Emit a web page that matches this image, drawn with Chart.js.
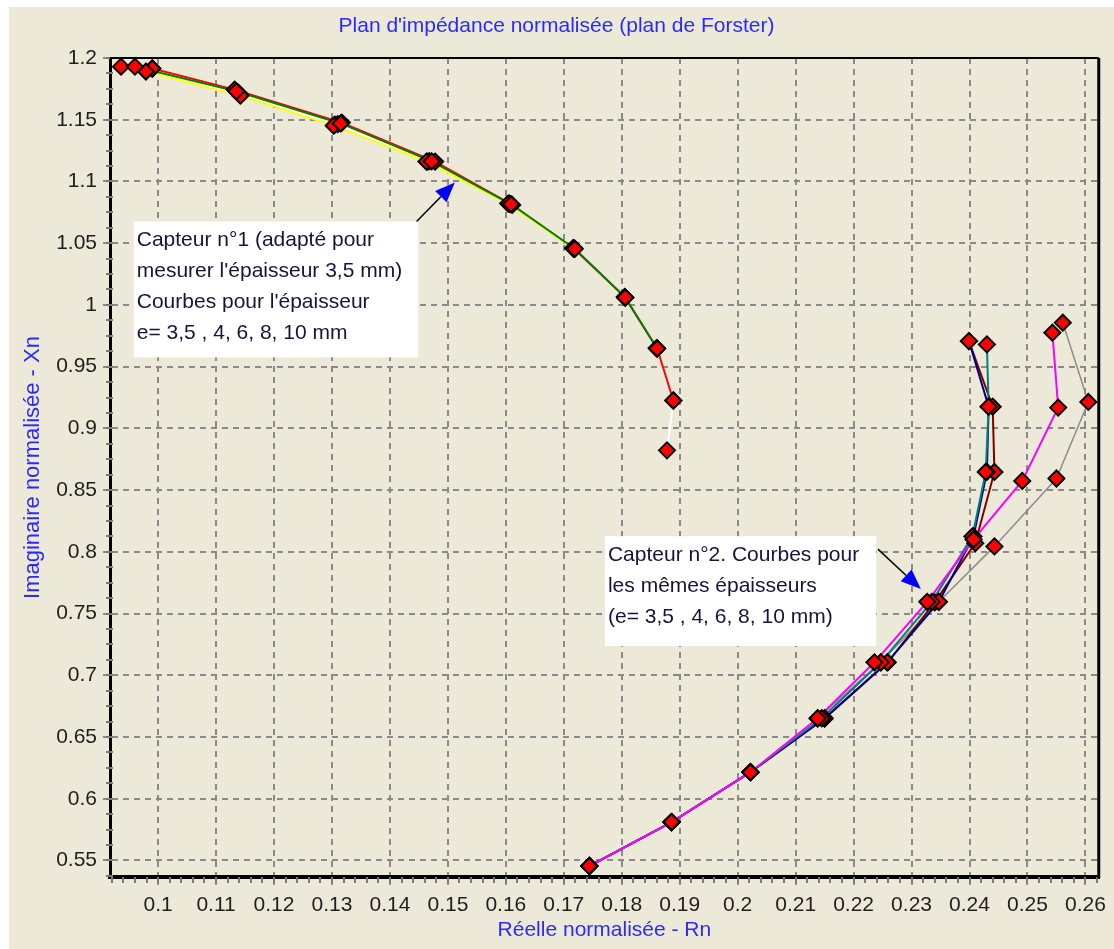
<!DOCTYPE html>
<html lang="fr">
<head>
<meta charset="utf-8">
<title>Plan d'impédance normalisée</title>
<script src="https://cdn.jsdelivr.net/npm/chart.js@4.4.1/dist/chart.umd.min.js"></script>
<style>
  html, body { margin: 0; background: #fff; }
  #cadre { position: absolute; left: 9px; top: 7px; width: 1105px; height: 942px; background: #ece9d8; }
</style>
</head>
<body>
<div id="cadre"><canvas id="graphe"></canvas></div>
<script>
// Capteur n°1 : points [Rn, Xn] pour chaque épaisseur
const c1_e35 = [[0.0979, 1.189], [0.1142, 1.1695], [0.1303, 1.1452], [0.1463, 1.1161], [0.1604, 1.0821], [0.1717, 1.0457]];
const c1_e4 = [[0.0990, 1.1915], [0.1138, 1.172], [0.1310, 1.1465], [0.1468, 1.1165], [0.1607, 1.0818], [0.1717, 1.0457], [0.1806, 1.006]];
const c1_e6 = [[0.0960, 1.193], [0.1135, 1.173], [0.1315, 1.147], [0.1472, 1.1163], [0.1609, 1.0815], [0.1719, 1.0455], [0.1806, 1.006], [0.1861, 0.9647]];
const c1_e8 = [[0.0990, 1.1915], [0.1132, 1.1744], [0.1317, 1.1477], [0.1478, 1.1161], [0.1611, 1.081], [0.1717, 1.0457], [0.1805, 1.0065], [0.1861, 0.9647], [0.1889, 0.9226]];
const c1_e10 = [[0.0936, 1.193], [0.1140, 1.171], [0.1305, 1.146], [0.1465, 1.116], [0.1606, 1.082], [0.1716, 1.046], [0.1806, 1.006], [0.1860, 0.965], [0.1889, 0.9226], [0.1878, 0.8822]];

// Capteur n°2
const c2_e35 = [[0.1744, 0.5455], [0.1886, 0.5811], [0.2022, 0.6215], [0.2150, 0.6652], [0.2258, 0.7105], [0.2347, 0.7595], [0.2407, 0.8125], [0.2430, 0.8647], [0.2433, 0.9176], [0.2399, 0.9707]];
const c2_e4 = [[0.1744, 0.5455], [0.1886, 0.5811], [0.2022, 0.6215], [0.2150, 0.665], [0.2259, 0.7105], [0.2340, 0.759], [0.2410, 0.807], [0.2443, 0.8647], [0.2440, 0.9176], [0.2399, 0.9707]];
const c2_e6 = [[0.1744, 0.5455], [0.1886, 0.5811], [0.2022, 0.6215], [0.2145, 0.6652], [0.2247, 0.7105], [0.2335, 0.7595], [0.2405, 0.8125], [0.2428, 0.8647], [0.2433, 0.9176], [0.2430, 0.968]];
const c2_e8 = [[0.1744, 0.5455], [0.1886, 0.5811], [0.2022, 0.6215], [0.2138, 0.6652], [0.2236, 0.7105], [0.2327, 0.7595], [0.2407, 0.81], [0.2491, 0.8574], [0.2553, 0.9168], [0.2543, 0.9775]];
const c2_e10 = [[0.1744, 0.5455], [0.1886, 0.5811], [0.2022, 0.6215], [0.2138, 0.665], [0.2247, 0.7105], [0.2347, 0.7595], [0.2443, 0.8044], [0.2550, 0.8594], [0.2605, 0.9214], [0.2561, 0.9856]];

const xTicks = [0.1, 0.11, 0.12, 0.13, 0.14, 0.15, 0.16, 0.17, 0.18, 0.19, 0.2, 0.21, 0.22, 0.23, 0.24, 0.25, 0.26];
const yTicks = [0.55, 0.6, 0.65, 0.7, 0.75, 0.8, 0.85, 0.9, 0.95, 1, 1.05, 1.1, 1.15, 1.2];
const xMin = 0.0917, xMax = 0.2623, yMin = 0.5366, yMax = 1.2;

// cadres de texte : [Rn gauche, Xn haut, Rn droite, Xn bas], flèche [départ Rn, Xn, pointe Rn, Xn]
const notes = [
  { box: [0.0958, 1.0676, 0.1449, 0.9575],
    lignes: ['Capteur n°1 (adapté pour', "mesurer l'épaisseur 3,5 mm)", "Courbes pour l'épaisseur", 'e= 3,5 , 4, 6, 8, 10 mm'],
    fleche: [0.1446, 1.0676, 0.1512, 1.0992] },
  { box: [0.1771, 0.8127, 0.2239, 0.7237],
    lignes: ['Capteur n°2. Courbes pour', 'les mêmes épaisseurs', '(e= 3,5 , 4, 6, 8, 10 mm)'],
    fleche: [0.2242, 0.8022, 0.2316, 0.7698] }
];

const police = 'Arial, "Liberation Sans", sans-serif';

// la première courbe de la liste est dessinée au-dessus des autres
const courbes = [
  { pts: c2_e8, couleur: '#ff00ff', ep: 2 },
  { pts: c2_e6, couleur: '#008080', ep: 2 },
  { pts: c2_e35, couleur: '#000080', ep: 2 },
  { pts: c2_e4, couleur: '#800000', ep: 2 },
  { pts: c2_e10, couleur: '#8c8c8c', ep: 1.5 },
  { pts: c1_e6, couleur: '#008000', ep: 2 },
  { pts: c1_e35, couleur: '#ffff00', ep: 2 },
  { pts: c1_e8, couleur: '#ff0000', ep: 2 },
  { pts: c1_e4, couleur: '#ffffff', ep: 2 },
  { pts: c1_e10, couleur: '#ffffff', ep: 2 }
];

const datasets = [];
courbes.forEach(c => {
  const data = c.pts.map(p => ({ x: p[0], y: p[1] }));
  datasets.push({ data, showLine: true, borderColor: c.couleur, borderWidth: c.ep, pointRadius: 0, order: 2 });
  datasets.push({ data, showLine: false, pointStyle: 'rectRot', pointRadius: 8,
    backgroundColor: '#ff0000', borderColor: '#000', pointBorderWidth: 2, order: 1 });
});

const decor = {
  id: 'decor',
  beforeDatasetsDraw(chart) {
    const { ctx, chartArea: a, scales: { x, y } } = chart;
    ctx.save();
    ctx.strokeStyle = '#7a7a7a';
    ctx.lineWidth = 2;
    ctx.beginPath();
    for (let v = 0.092; v < xMax; v += 0.002) {
      const px = Math.round(x.getPixelForValue(v));
      ctx.moveTo(px, a.bottom);
      ctx.lineTo(px, a.bottom + 6);
    }
    for (let v = 0.5375; v < yMax; v += 0.0125) {
      const py = Math.round(y.getPixelForValue(v));
      ctx.moveTo(a.left - 4, py);
      ctx.lineTo(a.left + 3, py);
    }
    ctx.stroke();
    ctx.strokeStyle = '#000';
    ctx.lineWidth = 2;
    ctx.beginPath();
    ctx.moveTo(a.left, a.top);
    ctx.lineTo(a.right, a.top);
    ctx.stroke();
    ctx.lineWidth = 3;
    ctx.beginPath();
    ctx.moveTo(a.right, a.top);
    ctx.lineTo(a.right, a.bottom + 1);
    ctx.stroke();
    ctx.restore();
  },
  afterDatasetsDraw(chart) {
    const { ctx, scales: { x, y } } = chart;
    ctx.save();
    ctx.font = '21px ' + police;
    ctx.textBaseline = 'middle';
    notes.forEach(n => {
      const l = x.getPixelForValue(n.box[0]), t = y.getPixelForValue(n.box[1]);
      const r = x.getPixelForValue(n.box[2]), b = y.getPixelForValue(n.box[3]);
      ctx.fillStyle = '#fff';
      ctx.fillRect(l, t, r - l, b - t);
      ctx.fillStyle = '#15153a';
      n.lignes.forEach((s, i) => ctx.fillText(s, l + 3, t + 19 + i * 31));

      const sx = x.getPixelForValue(n.fleche[0]), sy = y.getPixelForValue(n.fleche[1]);
      const ex = x.getPixelForValue(n.fleche[2]), ey = y.getPixelForValue(n.fleche[3]);
      const ang = Math.atan2(ey - sy, ex - sx);
      const bx = ex - 20 * Math.cos(ang), by = ey - 20 * Math.sin(ang);
      ctx.strokeStyle = '#000';
      ctx.lineWidth = 1.5;
      ctx.beginPath();
      ctx.moveTo(sx, sy);
      ctx.lineTo(bx, by);
      ctx.stroke();
      ctx.fillStyle = '#0000ff';
      ctx.beginPath();
      ctx.moveTo(ex, ey);
      ctx.lineTo(bx + 8 * Math.sin(ang), by - 8 * Math.cos(ang));
      ctx.lineTo(bx - 8 * Math.sin(ang), by + 8 * Math.cos(ang));
      ctx.closePath();
      ctx.fill();
    });
    ctx.restore();
  }
};

const fmt = v => String(+v.toFixed(3));

new Chart(document.getElementById('graphe'), {
  type: 'scatter',
  data: { datasets },
  plugins: [decor],
  options: {
    responsive: true,
    maintainAspectRatio: false,
    animation: false,
    layout: { padding: { left: 0, right: 10, top: 0, bottom: 0 } },
    plugins: {
      legend: { display: false },
      tooltip: { enabled: false },
      title: {
        display: true,
        text: "Plan d'impédance normalisée (plan de Forster)",
        color: '#2a2aff',
        font: { family: police, size: 21, weight: 'normal' },
        padding: { top: 7, bottom: 18.8 }
      }
    },
    scales: {
      x: {
        type: 'linear', min: xMin, max: xMax,
        afterBuildTicks: s => { s.ticks = xTicks.map(v => ({ value: v })); },
        afterFit: s => { s.height = 72; },
        ticks: { color: '#1e1e1e', font: { family: police, size: 21 }, padding: 8, maxRotation: 0, autoSkip: false, callback: fmt },
        grid: { color: '#8a8a8a', lineWidth: 2, tickLength: 8 },
        border: { color: '#000', width: 4, dash: [6, 5] },
        title: { display: true, text: 'Réelle normalisée - Rn', color: '#2a2aff', font: { family: police, size: 21 }, padding: { top: 0, bottom: 6 } }
      },
      y: {
        type: 'linear', min: yMin, max: yMax,
        afterBuildTicks: s => { s.ticks = yTicks.map(v => ({ value: v })); },
        afterFit: s => { s.width = 101; },
        ticks: { color: '#1e1e1e', font: { family: police, size: 21 }, padding: 6, autoSkip: false, callback: fmt },
        grid: { color: '#8a8a8a', lineWidth: 2, tickLength: 7 },
        border: { color: '#000', width: 3, dash: [6, 5] },
        title: { display: true, text: 'Imaginaire normalisée - Xn', color: '#2a2aff', font: { family: police, size: 22 }, padding: { top: 11, bottom: 0 } }
      }
    }
  }
});
</script>
</body>
</html>
